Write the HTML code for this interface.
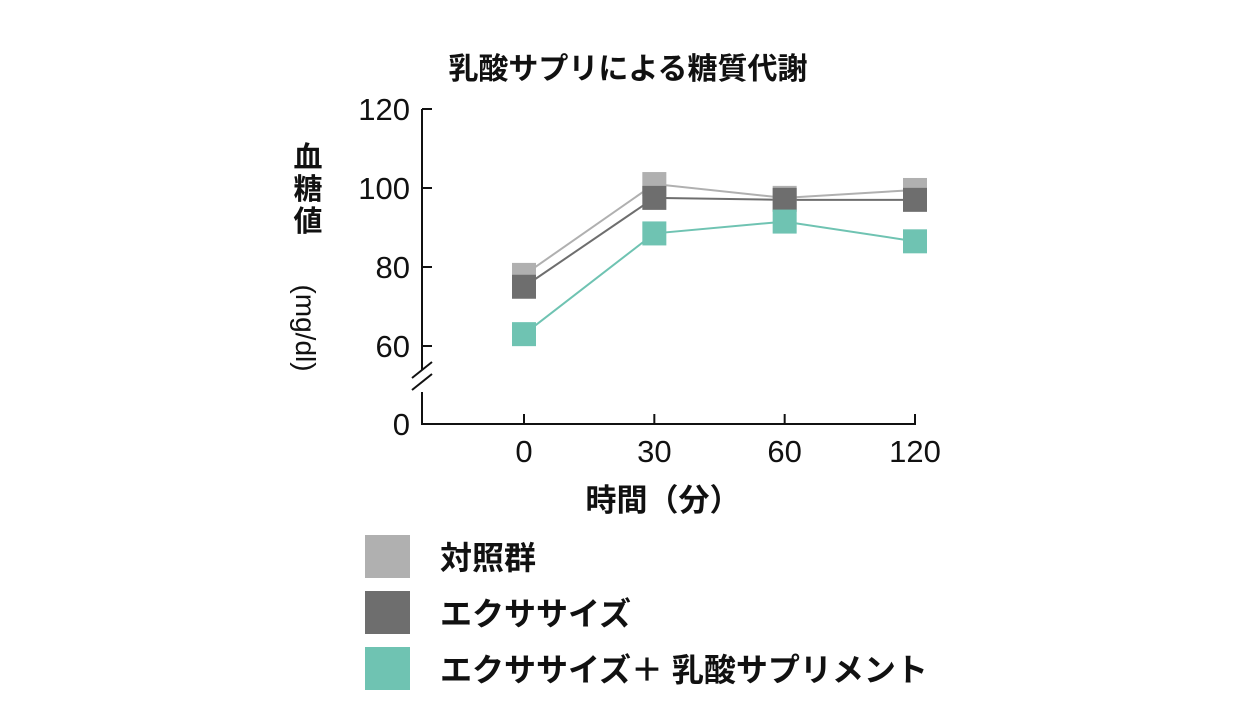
<!DOCTYPE html>
<html><head><meta charset="utf-8"><style>
body{margin:0;background:#fff;}
svg text{font-family:"Liberation Sans","Noto Sans CJK JP",sans-serif;fill:#111;}
</style></head><body>
<svg width="1258" height="720" viewBox="0 0 1258 720">
<text x="628" y="79" font-size="30" font-weight="bold" text-anchor="middle">乳酸サプリによる糖質代謝</text>
<g>
<text x="308" y="167" font-size="29" font-weight="bold" text-anchor="middle">血</text>
<text x="308" y="199" font-size="29" font-weight="bold" text-anchor="middle">糖</text>
<text x="308" y="231" font-size="29" font-weight="bold" text-anchor="middle">値</text>
<text transform="translate(296,328) rotate(90)" font-size="28" text-anchor="middle">(mg/dl)</text>
</g>
<g id="axes"></g>
<g id="series"></g>
<text x="663" y="511" font-size="31" font-weight="bold" text-anchor="middle">時間（分）</text>
<g id="legend"></g>
</svg>
<script>
const categories=["0","30","60","120"];
const yTicks=[60,80,100,120];
const seriesNames=["対照群","エクササイズ","エクササイズ＋ 乳酸サプリメント"];
const control=[78,101,97.5,99.5];
const exercise=[75,97.5,97,97];
const lactic=[63,88.5,91.5,86.5];
const colors=["#b0b0b0","#6e6e6e","#6fc3b2"];
const NS="http://www.w3.org/2000/svg";
function mk(tag,attrs,parent){const e=document.createElementNS(NS,tag);for(const k in attrs)e.setAttribute(k,attrs[k]);parent.appendChild(e);return e;}
function xs(i){return 524+i*(915-524)/(categories.length-1);}
function y(v){return 188-(v-100)*79/20;}
const axes=document.getElementById('axes');
let l=mk('line',{x1:422,y1:109,x2:422,y2:370,stroke:'#111','stroke-width':2},axes);

l=mk('line',{x1:422,y1:392,x2:422,y2:424,stroke:'#111','stroke-width':2},axes);

l=mk('path',{d:'M412 378 L432 362 M412 390 L432 374',stroke:'#111','stroke-width':2,fill:'none'},axes);

l=mk('line',{x1:421,y1:424,x2:916,y2:424,stroke:'#111','stroke-width':2},axes);

yTicks.forEach(v=>{
  const t=mk('line',{x1:422,y1:y(v),x2:432,y2:y(v),stroke:'#111','stroke-width':2},axes);
  
  const tx=mk('text',{x:410,y:y(v)+11,'font-size':31,'text-anchor':'end'},axes);tx.textContent=v;
  
});
const z=mk('text',{x:410,y:435,'font-size':31,'text-anchor':'end'},axes);z.textContent='0';

categories.forEach((c,i)=>{
  const t=mk('line',{x1:xs(i),y1:414,x2:xs(i),y2:424,stroke:'#111','stroke-width':2},axes);
  
  const tx=mk('text',{x:xs(i),y:462,'font-size':31,'text-anchor':'middle'},axes);tx.textContent=c;
  
});
const ser=document.getElementById('series');
[control,exercise,lactic].forEach((d,s)=>{
  const pl=mk('polyline',{points:d.map((v,i)=>xs(i)+','+y(v)).join(' '),fill:'none',stroke:colors[s],'stroke-width':2},ser);
  
});
[control,exercise,lactic].forEach((d,s)=>{
  d.forEach((v,i)=>{
    const r=mk('rect',{x:xs(i)-12,y:y(v)-12,width:24,height:24,fill:colors[s]},ser);
    
  });
});
const lg=document.getElementById('legend');
seriesNames.forEach((n,s)=>{
  const yy=535+s*56;
  const r=mk('rect',{x:365,y:yy,width:45,height:43,fill:colors[s]},lg);
  
  const t=mk('text',{x:440,y:yy+34,'font-size':32,'font-weight':'bold'},lg);t.textContent=n;
  
});
</script>
</body></html>
